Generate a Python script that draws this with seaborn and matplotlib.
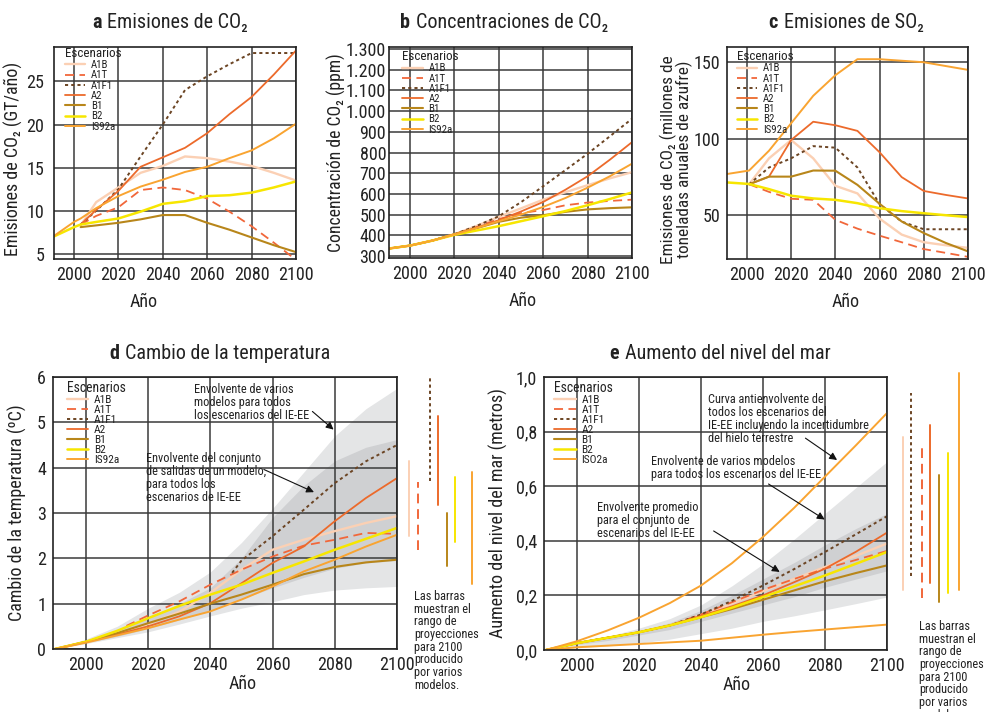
import numpy as np
import pandas as pd
import matplotlib
matplotlib.use("Agg")
import matplotlib.pyplot as plt
import matplotlib.transforms as mtransforms
from matplotlib.offsetbox import TextArea, HPacker, AnchoredOffsetbox
import seaborn as sns

sns.set_theme(style="white")
FONT = ["Roboto Condensed", "Asap Condensed", "Archivo Narrow", "DejaVu Sans"]
plt.rcParams["font.family"] = FONT

SCEN = ["A1B", "A1T", "A1F1", "A2", "B1", "B2", "IS92a"]
NAN = np.nan

# ---------------- panel a: CO2 emissions (GtC/yr)
A_YEARS = [1990, 2000, 2003, 2010, 2020, 2030, 2040, 2050, 2060, 2070, 2080, 2090, 2100]
A_A1B = [NAN, NAN, 8.3, 11.0, 12.7, 14.4, 15.2, 16.3, 16.1, 15.7, 15.2, 14.4, 13.5]
A_A1T = [NAN, NAN, 8.4, 9.4, 10.4, 12.4, 12.7, 12.4, 11.4, 9.9, 8.2, 6.3, 4.3]
A_A1F1 = [NAN, NAN, 8.4, 10.0, 12.5, 16.3, 20.0, 24.0, 25.6, 27.0, 28.3, 28.3, 28.3]
A_A2 = [NAN, NAN, 8.4, 10.1, 12.3, 15.1, 16.2, 17.3, 19.0, 21.2, 23.2, 25.8, 28.6]
A_B1 = [NAN, NAN, 8.1, 8.3, 8.6, 9.0, 9.5, 9.5, 8.6, 7.8, 6.9, 6.0, 5.2]
A_B2 = [6.9, 8.1, 8.4, 8.7, 9.1, 9.9, 10.8, 11.1, 11.7, 11.8, 12.1, 12.7, 13.4]
A_IS92A = [6.9, 8.7, 9.1, 10.3, 11.7, 12.8, 13.6, 14.5, 15.1, 16.1, 17.0, 18.4, 20.1]
A_YTICKS = [5, 10, 15, 20, 25]

# ---------------- panel b: CO2 concentrations (ppm)
B_YEARS = [1990, 2000, 2010, 2020, 2030, 2040, 2050, 2060, 2070, 2080, 2090, 2100]
B_A1B = [335, 350, 374, 405, 445, 489, 530, 572, 608, 642, 675, 705]
B_A1T = [335, 350, 374, 405, 440, 478, 507, 522, 545, 558, 566, 572]
B_A1F1 = [335, 350, 374, 405, 445, 492, 560, 637, 715, 794, 878, 963]
B_A2 = [335, 350, 374, 405, 437, 473, 515, 561, 620, 685, 765, 850]
B_B1 = [335, 350, 374, 405, 434, 465, 485, 497, 513, 525, 531, 535]
B_B2 = [335, 350, 374, 402, 423, 444, 468, 492, 517, 545, 575, 607]
B_IS92A = [335, 350, 374, 404, 435, 468, 500, 537, 580, 630, 685, 746]
B_YTICKS = [300, 400, 500, 600, 700, 800, 900, 1000, 1100, 1200, 1300]
B_YLABELS = ["300", "400", "500", "600", "700", "800", "900", "1.000", "1.100", "1.200", "1.300"]

# ---------------- panel c: SO2 emissions
C_YEARS = [1990, 2001, 2010, 2020, 2030, 2040, 2050, 2060, 2070, 2080, 2090, 2100]
C_A1B = [NAN, 70, 87, 99, 87, 69, 64, 47.5, 37, 32, 30, 28.3]
C_A1T = [NAN, 70, 65, 60.5, 59.8, 46.7, 40.9, 36.3, 32, 27.5, 25, 22.4]
C_A1F1 = [NAN, 70, 81, 87, 95, 94, 81, 57, 45.5, 40.5, 40.5, 40.5]
C_A2 = [NAN, 70, 75, 99, 111, 108.7, 105, 91, 74.7, 65.6, 63, 60.7]
C_B1 = [NAN, 70, 75, 75, 79, 78.9, 69.6, 57.2, 45.6, 38, 31.5, 26]
C_B2 = [71.3, 70.2, 66.8, 62.5, 60.7, 59.8, 57.6, 54.3, 52.4, 51, 49.7, 48.5]
C_IS92A = [76.5, 79, 92, 110, 128, 141.5, 152, 152, 151, 150, 147.5, 145]
C_YTICKS = [50, 100, 150]

# ---------------- panel d: temperature change
D_YEARS = [1990, 2000, 2010, 2020, 2030, 2040, 2050, 2060, 2070, 2080, 2090, 2100]
D_A1B = [0, 0.16, 0.33, 0.55, 0.82, 1.24, 1.75, 2.19, 2.41, 2.6, 2.78, 2.93]
D_A1T_YEARS = [2013, 2020, 2030, 2040, 2050, 2060, 2070, 2080, 2090, 2100]
D_A1T = [0.51, 0.74, 1.05, 1.42, 1.75, 2.04, 2.28, 2.41, 2.56, 2.54]
D_A1F1_YEARS = [2047, 2050, 2060, 2070, 2080, 2090, 2100]
D_A1F1 = [1.68, 1.95, 2.49, 3.07, 3.66, 4.14, 4.5]
D_A2 = [0, 0.16, 0.32, 0.5, 0.72, 1.01, 1.45, 1.9, 2.26, 2.82, 3.33, 3.77]
D_B1 = [0, 0.16, 0.35, 0.57, 0.78, 1.0, 1.2, 1.42, 1.65, 1.81, 1.91, 1.97]
D_B2 = [0, 0.16, 0.4, 0.68, 0.95, 1.2, 1.42, 1.68, 1.93, 2.19, 2.43, 2.67]
D_IS92A = [0, 0.14, 0.3, 0.46, 0.65, 0.83, 1.09, 1.38, 1.71, 1.97, 2.26, 2.52]
D_OUTER_HI = [0, 0.22, 0.5, 0.9, 1.25, 1.7, 2.35, 3.1, 3.9, 4.7, 5.3, 5.75]
D_OUTER_LO = [0, 0.12, 0.25, 0.38, 0.55, 0.73, 0.9, 1.04, 1.2, 1.3, 1.35, 1.38]
D_INNER_HI = [0, 0.18, 0.4, 0.7, 1.0, 1.35, 2.0, 2.9, 3.6, 4.15, 4.45, 4.62]
D_INNER_LO = [0, 0.14, 0.28, 0.45, 0.64, 0.85, 1.1, 1.35, 1.58, 1.78, 1.9, 1.95]
D_BAR_LO = [2.5, 2.18, 3.7, 3.18, 1.83, 2.36, 1.43]
D_BAR_HI = [4.15, 3.68, 6.0, 5.14, 3.0, 3.8, 3.9]

# ---------------- panel e: sea level rise
E_YEARS = [1990, 2000, 2010, 2020, 2030, 2040, 2050, 2060, 2070, 2080, 2090, 2100]
E_A1B = [0, 0.025, 0.045, 0.065, 0.09, 0.128, 0.17, 0.215, 0.26, 0.304, 0.345, 0.39]
E_A1T = [0, 0.025, 0.045, 0.065, 0.09, 0.13, 0.175, 0.22, 0.26, 0.298, 0.33, 0.363]
E_A1F1 = [0, 0.025, 0.045, 0.065, 0.09, 0.13, 0.18, 0.236, 0.296, 0.359, 0.424, 0.49]
E_A2 = [0, 0.025, 0.045, 0.065, 0.09, 0.125, 0.16, 0.2, 0.248, 0.298, 0.36, 0.43]
E_B1 = [0, 0.025, 0.045, 0.065, 0.09, 0.12, 0.15, 0.184, 0.218, 0.252, 0.282, 0.31]
E_B2 = [0, 0.025, 0.045, 0.065, 0.09, 0.12, 0.155, 0.194, 0.233, 0.273, 0.316, 0.359]
E_IS92A_HI = [0, 0.032, 0.072, 0.118, 0.172, 0.236, 0.318, 0.414, 0.52, 0.635, 0.75, 0.868]
E_IS92A_LO = [0, 0.01, 0.016, 0.022, 0.028, 0.034, 0.045, 0.056, 0.066, 0.075, 0.084, 0.093]
E_OUTER_HI = [0, 0.03, 0.05, 0.08, 0.115, 0.165, 0.235, 0.315, 0.405, 0.5, 0.595, 0.69]
E_OUTER_LO = [0, 0.008, 0.015, 0.025, 0.04, 0.06, 0.08, 0.105, 0.125, 0.147, 0.17, 0.194]
E_INNER_HI = [0, 0.025, 0.045, 0.07, 0.1, 0.145, 0.2, 0.26, 0.32, 0.385, 0.445, 0.5]
E_INNER_LO = [0, 0.02, 0.035, 0.055, 0.075, 0.105, 0.135, 0.165, 0.195, 0.23, 0.26, 0.29]
E_BAR_LO = [0.22, 0.27, 0.19, 0.245, 0.175, 0.21, 0.22]
E_BAR_HI = [0.78, 0.94, 0.75, 0.825, 0.64, 0.72, 1.015]
E_YTICKS = [0.0, 0.2, 0.4, 0.6, 0.8, 1.0]
E_YLABELS = ["0,0", "0,2", "0,4", "0,6", "0,8", "1,0"]

X_TICKS = [2000, 2020, 2040, 2060, 2080, 2100]

# ---------------- styles
COLORS = {"A1B": "#fbd0b4", "A1T": "#f1673a", "A1F1": "#6b4423", "A2": "#ec6a2b",
          "B1": "#b8861a", "B2": "#f7e600", "IS92a": "#f9a431"}
LS = {"A1B": "-", "A1T": (0, (5, 3)), "A1F1": (0, (1.6, 1.6)), "A2": "-",
      "B1": "-", "B2": "-", "IS92a": "-"}
LW = {"A1B": 1.7, "A1T": 1.3, "A1F1": 1.4, "A2": 1.3, "B1": 1.5, "B2": 1.8, "IS92a": 1.4}
GRID_C = "#3a3a3a"
LIGHT = "#e4e5e6"
DARK = "#cfd0d2"
TXT = "#222222"
TICK_FS = 13
LAB_FS = 13
ANN_FS = 8.8

W, H = 989, 712
fig = plt.figure(figsize=(W / 100, H / 100), dpi=100)


def px_axes(l, t, r, b):
    return fig.add_axes([l / W, 1 - b / H, (r - l) / W, (b - t) / H])


def line(ax, yrs, vals, key, label=None):
    df = pd.DataFrame({"x": yrs, "y": vals}).dropna()
    sns.lineplot(data=df, x="x", y="y", ax=ax, color=COLORS[key], linestyle=LS[key],
                 lw=LW[key], label=label if label is not None else key,
                 estimator=None, sort=False, zorder=3)


def style_axes(ax, xlim, ylim, yticks, ylabels=None, ypad=5):
    ax.set_xlim(*xlim)
    ax.set_ylim(*ylim)
    ax.set_xticks(X_TICKS)
    ax.set_xticklabels([str(t) for t in X_TICKS])
    ax.set_yticks(yticks)
    ax.set_yticklabels(ylabels if ylabels is not None else [str(t) for t in yticks])
    ax.tick_params(axis="both", length=0, labelsize=TICK_FS, colors=TXT)
    ax.tick_params(axis="x", pad=5)
    ax.tick_params(axis="y", pad=ypad)
    ax.grid(True, color=GRID_C, lw=1.1)
    ax.set_axisbelow(True)
    for s in ax.spines.values():
        s.set_color(TXT)
        s.set_linewidth(1.2)
        s.set_visible(True)
        s.set_zorder(4)
    ax.set_xlabel("")
    ax.set_ylabel("")


def title(ax, letter, text, xf, yf, size=14.5):
    ta1 = TextArea(letter, textprops=dict(fontweight="bold", fontsize=size, color=TXT))
    ta2 = TextArea(text, textprops=dict(fontsize=size, color=TXT))
    box = HPacker(children=[ta1, ta2], align="baseline", pad=0, sep=4)
    anc = AnchoredOffsetbox(loc="lower center", child=box, pad=0, frameon=False,
                            bbox_to_anchor=(xf, yf), bbox_transform=ax.transAxes,
                            borderpad=0)
    ax.add_artist(anc)


def legend(ax, x0, y0, fs=7.8, tfs=9.4, ls=0.02):
    h, l = ax.get_legend_handles_labels()
    leg = ax.legend(h, l, title="Escenarios", loc="upper left", bbox_to_anchor=(x0, y0),
                    frameon=False, fontsize=fs, title_fontsize=tfs, handlelength=1.9,
                    handletextpad=0.5, labelspacing=ls, borderpad=0, borderaxespad=0,
                    alignment="left")
    for t in leg.get_texts():
        t.set_color(TXT)
    leg.get_title().set_color(TXT)
    leg.set_zorder(5)


def xlab(ax, xf, yf):
    ax.set_xlabel("Año", fontsize=LAB_FS, color=TXT)
    ax.xaxis.set_label_coords(xf, yf)


NOTE = "Las barras\nmuestran el\nrango de\nproyecciones\npara 2100\nproducido\npor varios\nmodelos."

# ================= a
axa = px_axes(54, 47, 296, 259)
A_SERIES = [A_A1B, A_A1T, A_A1F1, A_A2, A_B1, A_B2, A_IS92A]
for k, v in zip(SCEN, A_SERIES):
    line(axa, A_YEARS, v, k)
style_axes(axa, (1991, 2100), (4.4, 29), A_YTICKS, ypad=7)
legend(axa, 0.045, 1.0)
title(axa, "a", "Emisiones de CO₂", 0.479, 1.07)
axa.set_ylabel("Emisiones de CO₂ (GT/año)", fontsize=LAB_FS, color=TXT)
axa.yaxis.set_label_coords(-0.128, 0.47)
xlab(axa, 0.37, -0.16)

# ================= b
axb = px_axes(389, 47, 632, 258)
B_SERIES = [B_A1B, B_A1T, B_A1F1, B_A2, B_B1, B_B2, B_IS92A]
for k, v in zip(SCEN, B_SERIES):
    line(axb, B_YEARS, v, k)
style_axes(axb, (1990.5, 2100), (290, 1310), B_YTICKS, B_YLABELS, ypad=2)
legend(axb, 0.055, 0.985)
title(axb, "b", "Concentraciones de CO₂", 0.473, 1.07)
axb.set_ylabel("Concentración de CO₂ (ppm)", fontsize=LAB_FS - 0.3, color=TXT)
axb.yaxis.set_label_coords(-0.175, 0.5)
xlab(axb, 0.55, -0.16)

# ================= c
axc = px_axes(727, 47, 968, 259)
C_SERIES = [C_A1B, C_A1T, C_A1F1, C_A2, C_B1, C_B2, C_IS92A]
for k, v in zip(SCEN, C_SERIES):
    line(axc, C_YEARS, v, k)
style_axes(axc, (1991, 2100), (21, 160), C_YTICKS, ypad=5)
legend(axc, 0.04, 0.985)
title(axc, "c", "Emisiones de SO₂", 0.494, 1.07)
axc.set_ylabel("Emisiones de CO₂ (millones de\ntoneladas anuales de azufre)",
               fontsize=LAB_FS - 0.6, color=TXT, linespacing=0.95)
axc.yaxis.set_label_coords(-0.14, 0.47)
xlab(axc, 0.494, -0.16)

# ================= d
axd = px_axes(53, 377, 397, 649)
axd.fill_between(D_YEARS, D_OUTER_LO, D_OUTER_HI, color=LIGHT, lw=0, zorder=0.2)
axd.fill_between(D_YEARS, D_INNER_LO, D_INNER_HI, color=DARK, lw=0, zorder=0.3)
line(axd, D_YEARS, D_A1B, "A1B")
line(axd, D_A1T_YEARS, D_A1T, "A1T")
line(axd, D_A1F1_YEARS, D_A1F1, "A1F1")
line(axd, D_YEARS, D_A2, "A2")
line(axd, D_YEARS, D_B1, "B1")
line(axd, D_YEARS, D_B2, "B2")
line(axd, D_YEARS, D_IS92A, "IS92a")
style_axes(axd, (1989.4, 2100), (0, 6), [0, 1, 2, 3, 4, 5, 6], ypad=5)
legend(axd, 0.04, 0.985, fs=8.2, tfs=9.8, ls=0.0)
title(axd, "d", "Cambio de la temperatura", 0.486, 1.05)
axd.set_ylabel("Cambio de la temperatura (ºC)", fontsize=LAB_FS, color=TXT)
axd.yaxis.set_label_coords(-0.075, 0.5)
xlab(axd, 0.552, -0.095)

D_BAR_X = [1.035, 1.061, 1.096, 1.119, 1.145, 1.169, 1.218]
trd = mtransforms.blended_transform_factory(axd.transAxes, axd.transData)
for k, xf, lo, hi in zip(SCEN, D_BAR_X, D_BAR_LO, D_BAR_HI):
    axd.plot([xf, xf], [lo, hi], transform=trd, clip_on=False, color=COLORS[k],
             linestyle=LS[k], lw=1.4)
axd.text(1.049, 0.217, NOTE, transform=axd.transAxes, ha="left", va="top",
         fontsize=ANN_FS, linespacing=0.97, color=TXT)

ann_kw = dict(arrowstyle="-|>", color="#111111", lw=0.8, mutation_scale=11,
              shrinkA=0, shrinkB=0)
axd.text(2034.8, 5.86, "Envolvente de varios\nmodelos para todos\nlos escenarios del IE-EE",
         ha="left", va="top", fontsize=ANN_FS, linespacing=1.0, color=TXT, zorder=6)
axd.annotate("", xy=(2079.6, 4.84), xytext=(2072.8, 5.24), arrowprops=ann_kw, zorder=6)
axd.text(2019.4, 4.34, "Envolvente del conjunto\nde salidas de un modelo,\npara todos los\nescenarios de IE-EE",
         ha="left", va="top", fontsize=ANN_FS, linespacing=1.0, color=TXT, zorder=6)
axd.annotate("", xy=(2073.3, 3.46), xytext=(2057.2, 3.96), arrowprops=ann_kw, zorder=6)

# ================= e
axe = px_axes(544, 377, 887, 650)
axe.fill_between(E_YEARS, E_OUTER_LO, E_OUTER_HI, color=LIGHT, lw=0, zorder=0.2)
axe.fill_between(E_YEARS, E_INNER_LO, E_INNER_HI, color=DARK, lw=0, zorder=0.3)
line(axe, E_YEARS, E_A1B, "A1B")
line(axe, E_YEARS, E_A1T, "A1T")
line(axe, E_YEARS, E_A1F1, "A1F1")
line(axe, E_YEARS, E_A2, "A2")
line(axe, E_YEARS, E_B1, "B1")
line(axe, E_YEARS, E_B2, "B2")
line(axe, E_YEARS, E_IS92A_HI, "IS92a", label="ISO2a")
line(axe, E_YEARS, E_IS92A_LO, "IS92a", label="_nolegend_")
style_axes(axe, (1989.4, 2100), (0, 1.0), E_YTICKS, E_YLABELS, ypad=5)
legend(axe, 0.03, 0.985, fs=8.2, tfs=9.8, ls=0.0)
title(axe, "e", "Aumento del nivel del mar", 0.513, 1.05)
axe.set_ylabel("Aumento del nivel del mar (metros)", fontsize=LAB_FS, color=TXT)
axe.yaxis.set_label_coords(-0.105, 0.5)
xlab(axe, 0.563, -0.095)

E_BAR_KEYS = ["A1B", "A1F1", "A1T", "A2", "B1", "B2", "IS92a"]
E_BAR_X = [1.047, 1.070, 1.102, 1.125, 1.152, 1.178, 1.210]
tre = mtransforms.blended_transform_factory(axe.transAxes, axe.transData)
for k, xf, lo, hi in zip(E_BAR_KEYS, E_BAR_X, E_BAR_LO, E_BAR_HI):
    axe.plot([xf, xf], [lo, hi], transform=tre, clip_on=False, color=COLORS[k],
             linestyle=LS[k], lw=1.4)
axe.text(1.093, 0.11, NOTE, transform=axe.transAxes, ha="left", va="top",
         fontsize=ANN_FS, linespacing=0.97, color=TXT)

axe.text(2042.2, 0.942, "Curva antienvolvente de\ntodos los escenarios del\nIE-EE incluyendo la incertidumbre\ndel hielo terrestre",
         ha="left", va="top", fontsize=ANN_FS, linespacing=1.0, color=TXT, zorder=6)
axe.annotate("", xy=(2083.9, 0.696), xytext=(2073.7, 0.776), arrowprops=ann_kw, zorder=6)
axe.text(2024.0, 0.714, "Envolvente de varios modelos\npara todos los escenarios del IE-EE",
         ha="left", va="top", fontsize=ANN_FS, linespacing=1.0, color=TXT, zorder=6)
axe.annotate("", xy=(2079.9, 0.478), xytext=(2061.8, 0.608), arrowprops=ann_kw, zorder=6)
axe.text(2006.5, 0.546, "Envolvente promedio\npara el conjunto de\nescenarios del IE-EE",
         ha="left", va="top", fontsize=ANN_FS, linespacing=1.0, color=TXT, zorder=6)
axe.annotate("", xy=(2065.4, 0.286), xytext=(2044.1, 0.436), arrowprops=ann_kw, zorder=6)

fig.savefig("out.png", dpi=100, facecolor="white")
